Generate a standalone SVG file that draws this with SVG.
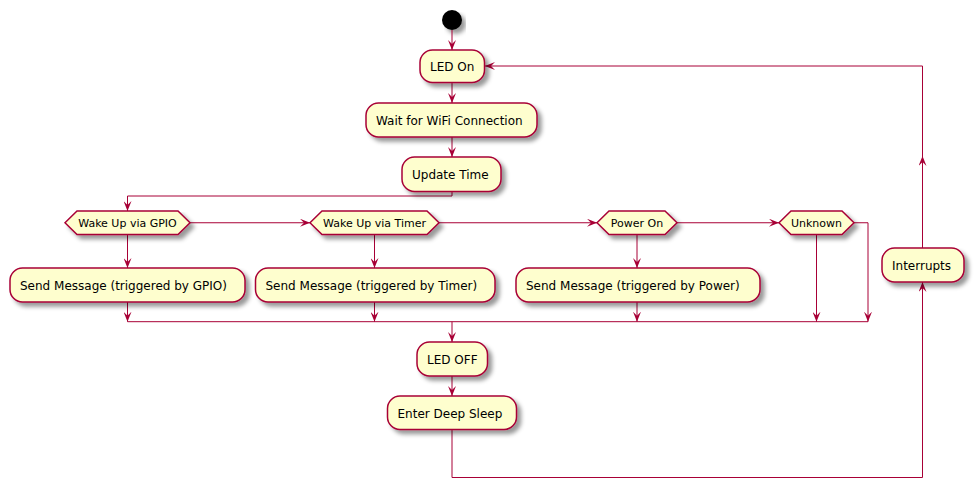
<svg xmlns="http://www.w3.org/2000/svg" width="974" height="489" viewBox="0 0 974 489">
<defs>
<filter id="sh" x="-10%" y="-10%" width="130%" height="150%">
<feGaussianBlur in="SourceAlpha" result="b" stdDeviation="2"/>
<feColorMatrix in="b" result="b2" type="matrix" values="0 0 0 0 0 0 0 0 0 0 0 0 0 0 0 0 0 0 .4 0"/>
<feOffset dx="4" dy="4" in="b2" result="b3"/>
<feBlend in="SourceGraphic" in2="b3" mode="normal"/>
</filter>
<marker id="ah" viewBox="0 0 10 8" refX="10" refY="4" markerWidth="10" markerHeight="8" markerUnits="userSpaceOnUse" orient="auto">
<path d="M0,0 L10,4 L0,8 L4,4 Z" fill="#A80036"/>
</marker>
</defs>
<style>
.act rect{fill:#FEFECE;stroke:#A80036;stroke-width:1.5;filter:url(#sh)}
.dec polygon{fill:#FEFECE;stroke:#A80036;stroke-width:1.5;filter:url(#sh)}
.act text{font-family:"DejaVu Sans",sans-serif;font-size:12px;fill:#000}
.dec text{font-family:"DejaVu Sans",sans-serif;font-size:11px;fill:#000;text-anchor:middle}
#connectors path{fill:none;stroke:#A80036;stroke-width:1}
#connectors path.a{marker-end:url(#ah)}
</style>
<rect width="974" height="489" fill="#FFFFFF"/>
<g id="start"><circle cx="452" cy="20" r="10" fill="#000" style="filter:url(#sh)"/></g>
<g id="connectors">
<path class="a" d="M452,30 V50"/>
<path class="a" d="M452,82.5 V103"/>
<path class="a" d="M452,137 V157"/>
<path class="a" d="M452,191.5 V196 H127.5 V211"/>
<path class="a" d="M190,222.75 H310"/>
<path class="a" d="M439,222.75 H597"/>
<path class="a" d="M677,222.75 H779"/>
<path class="a" d="M854,222.75 H868 V321.7"/>
<path class="a" d="M127.5,234.5 V268"/>
<path class="a" d="M374.5,234.5 V268"/>
<path class="a" d="M637,234.5 V268"/>
<path class="a" d="M816.5,234.5 V321.7"/>
<path class="a" d="M127.5,302 V321.7"/>
<path class="a" d="M374.5,302 V321.7"/>
<path class="a" d="M637,302 V321.7"/>
<path d="M127.5,321.7 H868"/>
<path class="a" d="M452,321.7 V342"/>
<path class="a" d="M452,376 V396"/>
<path class="a" d="M452,429.5 V477.5 H922.5 V282"/>
<path class="a" d="M922.5,248 V156"/>
<path class="a" d="M922.5,157 V66 H485"/>
</g>
<g id="ledon" class="act"><rect x="420" y="50" width="64.5" height="32.5" rx="12.5"/><text x="430" y="71">LED On</text></g>
<g id="wifi" class="act"><rect x="366" y="103" width="171" height="34" rx="12.5"/><text x="376" y="124.5">Wait for WiFi Connection</text></g>
<g id="time" class="act"><rect x="402" y="157" width="99" height="34.5" rx="12.5"/><text x="412" y="178.5">Update Time</text></g>
<g id="gpio" class="dec"><polygon points="65,222.75 77,211 178,211 190,222.75 178,234.5 77,234.5"/><text x="127.5" y="226.5">Wake Up via GPIO</text></g>
<g id="timer" class="dec"><polygon points="310,222.75 322,211 427,211 439,222.75 427,234.5 322,234.5"/><text x="374.5" y="226.5">Wake Up via Timer</text></g>
<g id="power" class="dec"><polygon points="597,222.75 609,211 665,211 677,222.75 665,234.5 609,234.5"/><text x="637" y="226.5">Power On</text></g>
<g id="unknown" class="dec"><polygon points="779,222.75 791,211 842,211 854,222.75 842,234.5 791,234.5"/><text x="816.5" y="226.5">Unknown</text></g>
<g id="msggpio" class="act"><rect x="10" y="268" width="235" height="34" rx="12.5"/><text x="20" y="290">Send Message (triggered by GPIO)</text></g>
<g id="msgtimer" class="act"><rect x="255.5" y="268" width="239.5" height="34" rx="12.5"/><text x="265.5" y="290">Send Message (triggered by Timer)</text></g>
<g id="msgpower" class="act"><rect x="516" y="268" width="244" height="34" rx="12.5"/><text x="526" y="290">Send Message (triggered by Power)</text></g>
<g id="interrupts" class="act"><rect x="882" y="248" width="82" height="34" rx="12.5"/><text x="892" y="269.5">Interrupts</text></g>
<g id="ledoff" class="act"><rect x="417" y="342" width="70.5" height="34" rx="12.5"/><text x="427" y="363.5">LED OFF</text></g>
<g id="sleep" class="act"><rect x="387.5" y="396" width="129" height="33.5" rx="12.5"/><text x="397.5" y="417.5">Enter Deep Sleep</text></g>
</svg>
